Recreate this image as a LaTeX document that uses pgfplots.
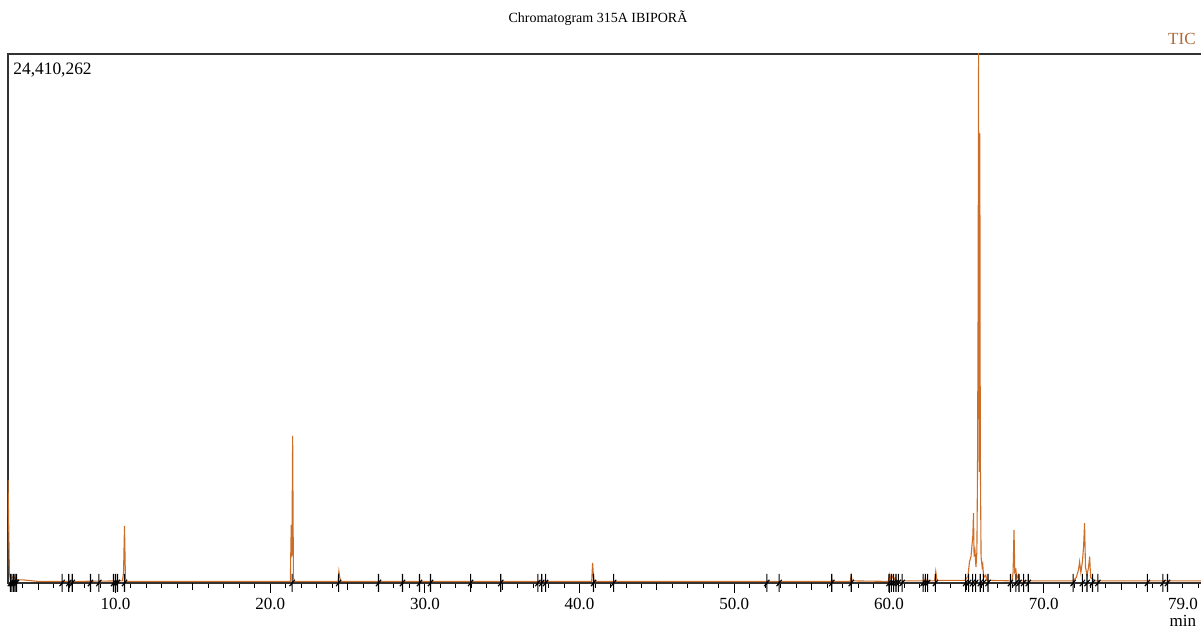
\documentclass[border=0pt]{standalone}
\usepackage{fontspec}
\setmainfont{Liberation Serif}
\usepackage{pgfplots}
\pgfplotsset{compat=1.18}
\definecolor{trace}{RGB}{205,110,40}
\definecolor{ticcol}{RGB}{175,105,55}
\definecolor{frame}{RGB}{50,50,50}
% peak mark: vertical bar with a small slash
\pgfdeclareplotmark{peakmark}{%
  \pgfpathmoveto{\pgfqpoint{0pt}{-4.5pt}}\pgfpathlineto{\pgfqpoint{0pt}{4.5pt}}%
  \pgfpathmoveto{\pgfqpoint{-1.3pt}{-1.6pt}}\pgfpathlineto{\pgfqpoint{1.3pt}{1.6pt}}%
  \pgfusepathqstroke}
\begin{document}
\begin{tikzpicture}
\path[use as bounding box] (0pt,0pt) rectangle (600.5pt,315pt);
\begin{axis}[at={(4pt,23.5pt)}, anchor=south west, scale only axis,
    width=600pt, height=264.5pt,
    xmin=3.05, xmax=80.62, ymin=0, ymax=1,
    axis line style={frame, line width=0.7pt},
    ytick=\empty,
    xtick={10,20,...,70},
    xticklabels={10.0,20.0,30.0,40.0,50.0,60.0,70.0},
    minor xtick={4,...,80},
    extra x ticks={5,15,...,75},
    extra x tick labels={},
    extra x tick style={major tick length=3.5pt},
    xtick pos=bottom, tick align=outside,
    major tick length=5pt, minor tick length=2.5pt,
    tick style={black, line width=0.5pt},
    xticklabel style={font=\fontsize{8.5}{10}\selectfont, yshift=1pt},
  ]
  % TIC trace
  \addplot[trace, line width=0.55pt] coordinates {
    (3.05,0.195)(3.10,0.10)(3.14,0.02)(3.2,0.008)(3.4,0.012)(3.6,0.006)(4.0,0.006)(5.0,0.003)
    (7.5,0.003)(10.45,0.004)(10.52,0.02)(10.58,0.108)(10.64,0.01)(10.7,0.003)
    (21.3,0.003)(21.36,0.11)(21.40,0.05)(21.45,0.278)(21.5,0.01)(21.56,0.003)
    (24.38,0.003)(24.44,0.022)(24.5,0.01)(24.56,0.003)
    (40.78,0.003)(40.84,0.038)(40.9,0.01)(40.96,0.003)
    (56.25,0.003)(56.3,0.007)(56.35,0.003)
    (57.5,0.003)(57.55,0.014)(57.62,0.004)
    (59.95,0.003)(60.05,0.016)(60.12,0.006)(60.2,0.014)(60.3,0.005)(60.4,0.01)(60.5,0.004)
    (62.3,0.004)(62.35,0.01)(62.42,0.004)(62.95,0.004)(63.02,0.022)(63.1,0.005)
    (64.9,0.005)(65.1,0.012)(65.2,0.04)(65.3,0.05)(65.42,0.09)(65.46,0.132)(65.5,0.05)
    (65.56,0.06)(65.62,0.03)(65.68,0.06)(65.72,0.21)(65.76,0.535)(65.79,1.02)(65.82,0.3)
    (65.84,0.21)(65.87,0.85)(65.9,0.25)(65.95,0.05)(66.02,0.03)(66.06,0.035)(66.12,0.01)
    (66.25,0.015)(66.32,0.005)
    (67.95,0.004)(68.02,0.02)(68.08,0.10)(68.13,0.02)(68.2,0.025)(68.26,0.008)(68.35,0.015)(68.42,0.004)
    (71.9,0.004)(72.1,0.01)(72.25,0.025)(72.32,0.04)(72.4,0.02)(72.5,0.04)(72.58,0.07)
    (72.64,0.113)(72.7,0.03)(72.8,0.015)(72.9,0.03)(72.97,0.05)(73.03,0.01)(73.15,0.008)
    (73.3,0.004)(76.8,0.004)(80.6,0.004)
  };
  % peak markers
  \addplot[only marks, mark=peakmark, black, line width=0.55pt] coordinates {
    (3.2,0)(3.3,0)(3.4,0)(3.5,0)(3.6,0)(6.55,0)(6.98,0)(7.2,0)(8.38,0)(8.92,0)
    (9.87,0)(10.0,0)(10.13,0)(10.58,0)(21.42,0)(24.42,0)(27.0,0)(28.55,0)(29.65,0)
    (30.36,0)(32.95,0)(34.9,0)(37.3,0)(37.55,0)(37.8,0)(40.9,0)(42.2,0)(52.1,0)
    (52.9,0)(56.3,0)(57.56,0)(60.0,0)(60.15,0)(60.3,0)(60.45,0)(60.6,0)(60.85,0)
    (62.2,0)(62.35,0)(62.5,0)(63.0,0)(64.95,0)(65.15,0)(65.4,0)(65.6,0)(65.9,0)
    (66.1,0)(66.4,0)(67.85,0)(68.2,0)(68.4,0)(68.7,0)(69.0,0)(71.9,0)(72.5,0)
    (72.8,0)(73.15,0)(73.5,0)(76.7,0)(77.7,0)(78.0,0)
  };
  \coordinate (p79) at (axis cs:79,0);
\end{axis}
\node[font=\fontsize{8.5}{10}\selectfont, anchor=north, inner sep=0.333em] at ([yshift=-4pt]p79) (l79) {79.0};
\node[font=\fontsize{8.5}{10}\selectfont, anchor=north, inner sep=0pt] at ([yshift=1pt]l79.south) {min};
\node[font=\fontsize{7}{9}\selectfont] at (299pt,306pt) {Chromatogram 315A IBIPORÃ};
\node[font=\fontsize{8.5}{10}\selectfont, text=ticcol, anchor=east, inner sep=0pt] at (598pt,295.5pt) {TIC};
\node[font=\fontsize{8.7}{10}\selectfont, anchor=west, inner sep=0pt] at (6.5pt,280pt) {24,410,262};
\end{tikzpicture}
\end{document}
